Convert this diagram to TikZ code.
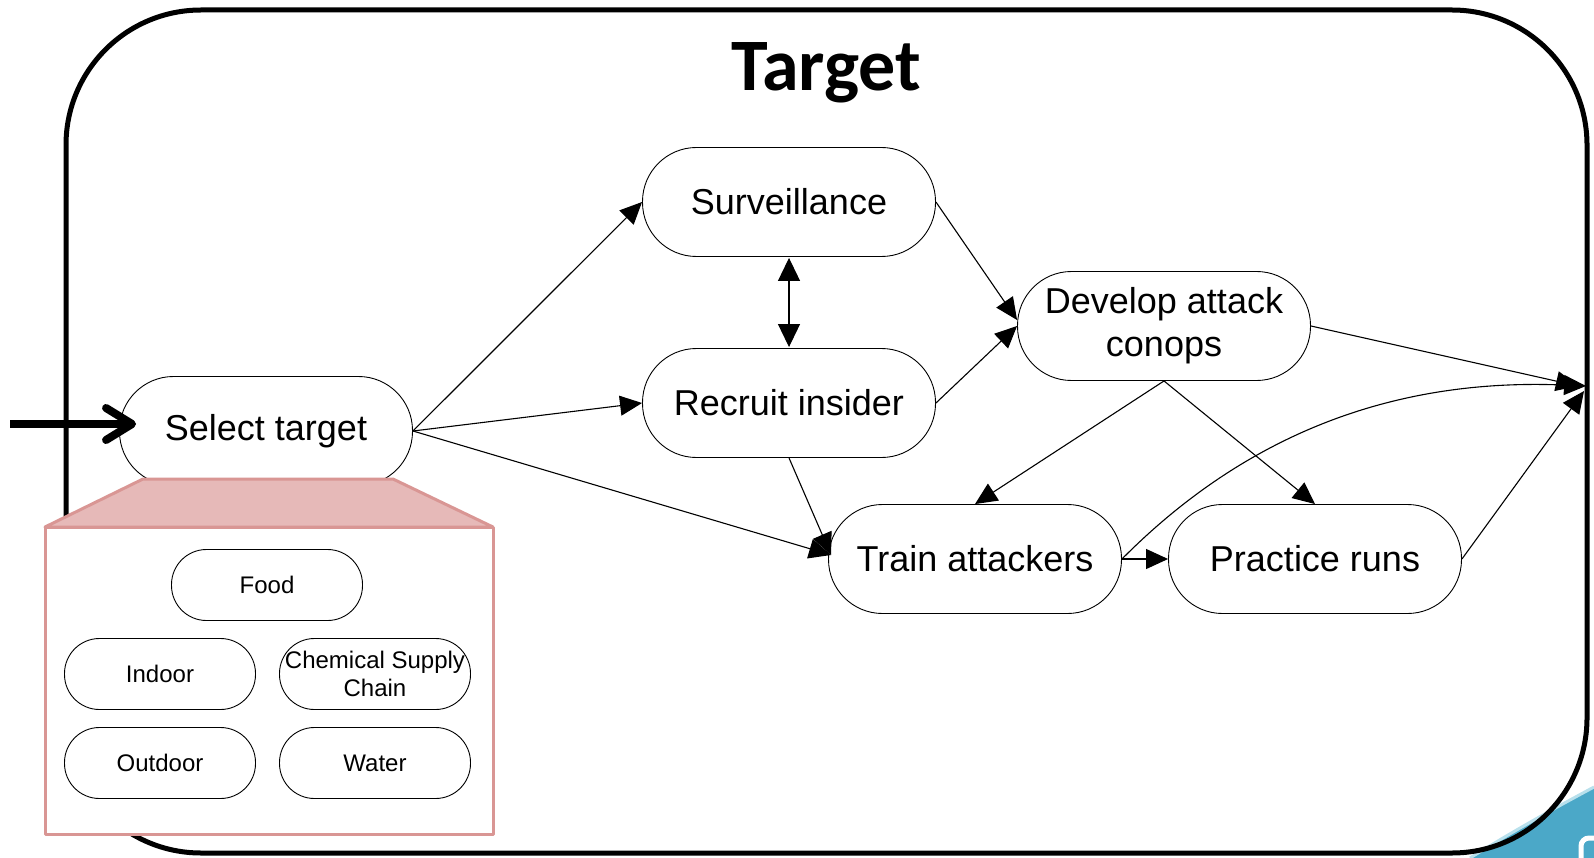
\documentclass[tikz,border=0pt]{standalone}
\usepackage{fontspec}
\setmainfont{Liberation Sans}
\newfontfamily\titlefont{Carlito}
\usetikzlibrary{arrows.meta}
\definecolor{pinkfill}{HTML}{E6B9B8}
\definecolor{pinkline}{HTML}{D99694}
\definecolor{logoblue}{RGB}{75,168,200}
\definecolor{logolight}{RGB}{184,224,236}
\begin{document}
\begin{tikzpicture}[x=1pt,y=-1pt,
 stage/.style={draw, line width=0.9pt, rounded corners=54pt, minimum width=293pt, minimum height=109pt, inner sep=0pt, font=\fontsize{36}{43}\selectfont, align=center, fill=white},
 sub/.style={draw, line width=0.9pt, rounded corners=35pt, minimum width=191pt, minimum height=71pt, inner sep=0pt, font=\fontsize{24}{28}\selectfont, align=center, fill=white},
 link/.style={line width=1.1pt, -{Triangle[length=22pt,width=20pt]}},
 dlink/.style={line width=1.1pt, {Triangle[length=23pt,width=22pt]}-{Triangle[length=23pt,width=22pt]}},
 outer/.style={line width=5pt, rounded corners=135pt},
 pinkbox/.style={draw=pinkline, line width=3pt, line join=round},
]
\useasboundingbox (0,0) rectangle (1594,858);
% cut-off logo
\fill[logoblue] (1470,858) .. controls (1515,830) and (1555,808) .. (1594,787) -- (1594,858) -- cycle;
\draw[logolight, line width=3pt] (1470,858) .. controls (1515,830) and (1555,808) .. (1594,787);
\draw[white, line width=5pt, rounded corners=8pt] (1600,838) -- (1581,838) -- (1581,866);
% outer frame
\draw[outer] (66,10) rectangle (1587,853);
\node[font=\titlefont\bfseries\fontsize{74}{80}\selectfont, anchor=base] (title) at (826,91) {Target};
% stages
\node[stage] (sel) at (266,431) {Select target};
\node[stage] (surv) at (789,202) {Surveillance};
\node[stage] (rec) at (789,403) {Recruit insider};
\node[stage] (dev) at (1164,326) {Develop attack\\conops};
\node[stage] (train) at (975,559) {Train attackers};
\node[stage] (prac) at (1315,559) {Practice runs};
\coordinate (entry) at (10,424);
\coordinate (exitA) at (1578,386);
\coordinate (exitB) at (1586,386);
\coordinate (exitC) at (1584,391);
% connectors
\draw[link] (sel.east) -- (surv.west);
\draw[link] (sel.east) -- (rec.west);
\draw[link] (sel.east) -- ([xshift=3pt,yshift=4pt]train.west);
\draw[dlink] ([yshift=-1pt]surv.south) -- ([yshift=1pt]rec.north);
\draw[link] (surv.east) -- ([yshift=6pt]dev.west);
\draw[link] (rec.east) -- (dev.west);
\draw[link] (rec.south) -- ([xshift=3pt,yshift=4pt]train.west);
\draw[link] (dev.south) -- (train.north);
\draw[link] (dev.south) -- (prac.north);
\draw[link] (train.east) -- (prac.west);
\draw[link] (dev.east) -- (exitA);
\draw[link] (train.east) .. controls (1250,430) and (1400,378) .. (exitB);
\draw[link] (prac.east) -- (exitC);
\draw[line width=8pt, -{Straight Barb[round, length=26pt, width=32pt]}] (entry) -- ([xshift=17pt,yshift=7pt]sel.west);
% zoom-out panel
\draw[pinkbox, fill=pinkfill] (143,479) -- (393,479) -- (493,527) -- (45,527) -- cycle;
\draw[pinkbox, fill=white] (45,527) rectangle (493,834);
\node[sub] (food) at (267,585) {Food};
\node[sub] (indoor) at (160,674) {Indoor};
\node[sub] (chem) at (375,674) {Chemical Supply\\Chain};
\node[sub] (outdoor) at (160,763) {Outdoor};
\node[sub] (water) at (375,763) {Water};
\end{tikzpicture}
\end{document}
